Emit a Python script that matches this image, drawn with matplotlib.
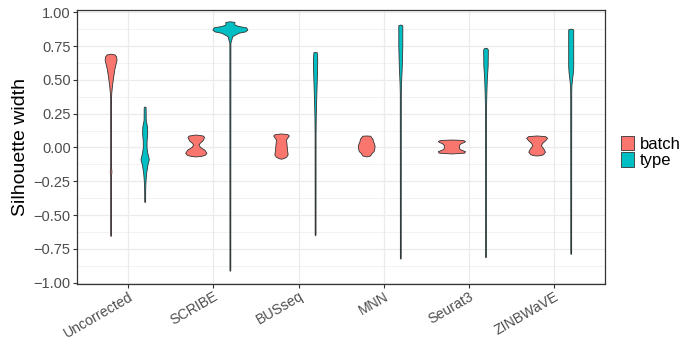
import matplotlib
matplotlib.use("Agg")
import matplotlib.pyplot as plt
from matplotlib.patches import Patch
import numpy as np

plt.rcParams['font.family'] = ['Liberation Sans', 'DejaVu Sans']

methods = ["Uncorrected", "SCRIBE", "BUSseq", "MNN", "Seurat3", "ZINBWaVE"]
groups = ["batch", "type"]
colors = {"batch": "#F8766D", "type": "#00BFC4"}

# silhouette levels (top -> bottom) and violin width at each level
batch_y = [
    [0.69, 0.685, 0.67, 0.645, 0.62, 0.58, 0.52, 0.46, 0.40, 0.36, -0.15, -0.18, -0.21, -0.65, -0.66],
    [0.092, 0.085, 0.075, 0.05, 0.03, 0.018, 0.0, -0.02, -0.043, -0.058, -0.066, -0.07],
    [0.10, 0.095, 0.085, 0.07, 0.055, 0.035, 0.018, -0.018, -0.055, -0.072, -0.082, -0.087],
    [0.085, 0.083, 0.075, 0.06, 0.045, 0.031, 0.011, -0.013, -0.031, -0.043, -0.063, -0.07],
    [0.055, 0.052, 0.045, 0.038, 0.028, 0.015, 0.0, -0.015, -0.025, -0.031, -0.042, -0.048],
    [0.085, 0.08, 0.068, 0.05, 0.03, 0.013, -0.013, -0.035, -0.053, -0.06, -0.063],
]
batch_w = [
    [0.0, 0.09, 0.13, 0.14, 0.12, 0.09, 0.06, 0.035, 0.015, 0.01, 0.01, 0.02, 0.01, 0.01, 0.0],
    [0.0, 0.16, 0.195, 0.16, 0.09, 0.063, 0.1, 0.2, 0.25, 0.21, 0.12, 0.0],
    [0.0, 0.15, 0.184, 0.15, 0.117, 0.125, 0.13, 0.14, 0.156, 0.12, 0.06, 0.0],
    [0.0, 0.094, 0.11, 0.149, 0.155, 0.176, 0.196, 0.19, 0.172, 0.13, 0.09, 0.0],
    [0.0, 0.26, 0.32, 0.30, 0.22, 0.18, 0.175, 0.19, 0.27, 0.32, 0.30, 0.0],
    [0.0, 0.2, 0.246, 0.2, 0.13, 0.10, 0.16, 0.196, 0.15, 0.09, 0.0],
]
type_y = [
    [0.30, 0.295, 0.20, 0.15, 0.10, 0.05, 0.0, -0.04, -0.09, -0.13, -0.19, -0.24, -0.30, -0.40, -0.41],
    [0.93, 0.925, 0.905, 0.895, 0.885, 0.869, 0.855, 0.845, 0.82, 0.783, 0.77, -0.91, -0.917],
    [0.704, 0.70, 0.65, 0.55, 0.45, 0.35, 0.22, 0.10, -0.645, -0.655],
    [0.906, 0.90, 0.75, 0.60, 0.477, 0.40, -0.82, -0.827],
    [0.734, 0.73, 0.72, 0.60, 0.50, 0.40, 0.28, -0.81, -0.817],
    [0.876, 0.87, 0.60, 0.55, 0.50, 0.45, 0.40, -0.785, -0.793],
]
type_w = [
    [0.0, 0.022, 0.025, 0.055, 0.06, 0.045, 0.043, 0.06, 0.098, 0.065, 0.035, 0.022, 0.013, 0.01, 0.0],
    [0.0, 0.106, 0.106, 0.2, 0.38, 0.41, 0.36, 0.2, 0.055, 0.023, 0.012, 0.01, 0.0],
    [0.0, 0.04, 0.05, 0.045, 0.035, 0.025, 0.015, 0.011, 0.01, 0.0],
    [0.0, 0.047, 0.047, 0.035, 0.018, 0.012, 0.01, 0.0],
    [0.0, 0.04, 0.055, 0.05, 0.03, 0.02, 0.012, 0.01, 0.0],
    [0.0, 0.059, 0.059, 0.05, 0.03, 0.015, 0.012, 0.01, 0.0],
]

profiles = {"batch": (batch_y, batch_w), "type": (type_y, type_w)}
dodge = {"batch": -0.2, "type": 0.2}

fig = plt.figure(figsize=(6.88, 3.39), dpi=100)
ax = fig.add_axes([77 / 688, 1 - 284 / 339, (605.3 - 77) / 688, (284 - 10) / 339])

for g in groups:
    ys, ws = profiles[g]
    for i in range(len(methods)):
        c = i + 1 + dodge[g]
        y = np.array(ys[i])
        w = np.array(ws[i])
        ax.fill(np.concatenate([c - w / 2, (c + w / 2)[::-1]]),
                np.concatenate([y, y[::-1]]),
                facecolor=colors[g], edgecolor="#333333", lw=0.6, zorder=3)

ax.set_xlim(0.4, 6.6)
ax.set_ylim(-1.01, 1.017)

yt = np.arange(-1, 1.01, 0.25)
ax.set_yticks(yt)
ax.set_yticklabels(["%.2f" % v if v >= 0 else "\u2212%.2f" % -v for v in yt])
ax.set_yticks(np.arange(-0.875, 1.0, 0.25), minor=True)
ax.set_xticks(range(1, len(methods) + 1))
ax.set_xticklabels(methods, rotation=30, ha="right", rotation_mode="anchor")

ax.grid(True, which="major", color="#EBEBEB", lw=0.9, zorder=0)
ax.grid(True, which="minor", axis="y", color="#EBEBEB", lw=0.45, zorder=0)
ax.set_axisbelow(True)

ax.tick_params(axis="both", which="major", length=3, width=0.8, color="#333333",
               labelcolor="#4D4D4D", labelsize=10.5, pad=1.5)
ax.tick_params(axis="x", which="major", labelsize=10.2, pad=0.8)
ax.tick_params(axis="both", which="minor", length=0)
for s in ax.spines.values():
    s.set_color("#333333")
    s.set_linewidth(0.9)

ax.set_ylabel("Silhouette width", fontsize=14, labelpad=3)

handles = [Patch(facecolor=colors[g], edgecolor="#333333", lw=0.6) for g in groups]
fig.legend(handles, groups, loc="center left", bbox_to_anchor=(621 / 688, 1 - 151.7 / 339),
           frameon=False, fontsize=12, handlelength=0.8, handleheight=1.0,
           labelspacing=0.0, handletextpad=0.35, borderpad=0, borderaxespad=0)

fig.savefig("out.png", dpi=100)
